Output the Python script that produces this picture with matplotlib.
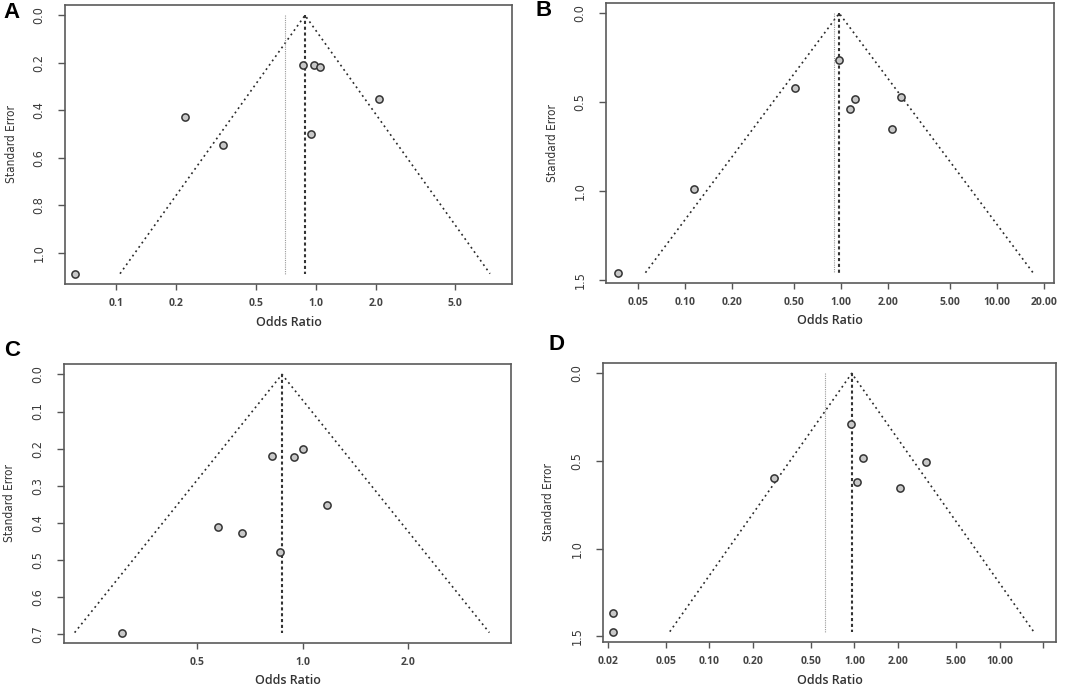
import numpy as np
import matplotlib
matplotlib.use("Agg")
import matplotlib.pyplot as plt
from matplotlib import font_manager
from matplotlib.font_manager import FontProperties
from matplotlib.ticker import NullLocator

# ---- data ----
# A
a_or = [0.0626, 0.2226, 0.3445, 0.866, 0.981, 1.052, 0.951, 2.083]
a_se = [1.088, 0.428, 0.545, 0.208, 0.210, 0.218, 0.500, 0.352]
a_est, a_adj = 0.883, 0.704
a_xticks = [0.1, 0.2, 0.5, 1.0, 2.0, 5.0]
a_xlabels = ["0.1", "0.2", "0.5", "1.0", "2.0", "5.0"]
a_yticks = [0.0, 0.2, 0.4, 0.6, 0.8, 1.0]
a_ylabels = ["0.0", "0.2", "0.4", "0.6", "0.8", "1.0"]

# B
b_or = [0.0371, 0.1135, 0.506, 0.975, 1.229, 1.146, 2.44, 2.11]
b_se = [1.459, 0.989, 0.422, 0.261, 0.481, 0.537, 0.472, 0.649]
b_est, b_adj = 0.975, 0.90
b_xticks = [0.05, 0.10, 0.20, 0.50, 1.00, 2.00, 5.00, 10.00, 20.00]
b_xlabels = ["0.05", "0.10", "0.20", "0.50", "1.00", "2.00", "5.00", "10.00", "20.00"]
b_yticks = [0.0, 0.5, 1.0, 1.5]
b_ylabels = ["0.0", "0.5", "1.0", "1.5"]

# C
c_or = [0.305, 0.575, 0.671, 0.859, 0.820, 0.946, 1.0, 1.174]
c_se = [0.695, 0.412, 0.426, 0.477, 0.220, 0.222, 0.200, 0.352]
c_est, c_adj = 0.873, None
c_xticks = [0.5, 1.0, 2.0]
c_xlabels = ["0.5", "1.0", "2.0"]
c_yticks = [0.0, 0.1, 0.2, 0.3, 0.4, 0.5, 0.6, 0.7]
c_ylabels = ["0.0", "0.1", "0.2", "0.3", "0.4", "0.5", "0.6", "0.7"]

# D
d_or = [0.0216, 0.0216, 0.277, 0.947, 1.151, 1.044, 3.12, 2.07]
d_se = [1.365, 1.473, 0.595, 0.291, 0.483, 0.618, 0.508, 0.656]
d_est, d_adj = 0.958, 0.627
d_xticks = [0.02, 0.05, 0.10, 0.20, 0.50, 1.00, 2.00, 5.00, 10.00, 20.00]
d_xlabels = ["0.02", "0.05", "0.10", "0.20", "0.50", "1.00", "2.00", "5.00", "10.00", ""]
d_yticks = [0.0, 0.5, 1.0, 1.5]
d_ylabels = ["0.0", "0.5", "1.0", "1.5"]

W, H = 1065, 690
fonts = font_manager.fontManager.ttflist
installed = {f.name for f in fonts}

# a condensed face for the y-axis text, if one is around
narrow_path = None
for f in fonts:
    nm = (f.name + " " + str(f.stretch)).lower()
    if ("narrow" in nm or "condensed" in nm) and f.weight in (400, "normal", "regular") \
            and f.style == "normal":
        narrow_path = f.fname
        break
if narrow_path:
    def narrow_fp(size):
        return FontProperties(fname=narrow_path, size=size)
else:
    def narrow_fp(size):
        return FontProperties(family="DejaVu Sans", size=size - 0.5)

wide = "Open Sans" if "Open Sans" in installed else "DejaVu Sans"
bold = "Liberation Sans" if "Liberation Sans" in installed else "DejaVu Sans"

fig = plt.figure(figsize=(W / 100, H / 100), dpi=100)
fig.patch.set_facecolor("white")


def px_axes(l, t, r, b):
    return fig.add_axes([l / W, 1 - b / H, (r - l) / W, (b - t) / H])


def funnel(ax, ors, ses, est, adj, xlim, ylim, xt, xl, yt, yl):
    ax.set_xscale("log")
    se_max = max(ses)
    z = 1.96
    lo = est * np.exp(-z * se_max)
    hi = est * np.exp(z * se_max)
    ax.plot([lo, est, hi], [se_max, 0, se_max], color="#2a2a2a", lw=1.2,
            linestyle=(0, (1.1, 2.1)))
    if adj is not None:
        ax.plot([adj, adj], [0, se_max], color="#9a9a9a", lw=0.8,
                linestyle=(0, (1, 1)))
    ax.plot([est, est], [0, se_max], color="#333333", lw=1.5,
            linestyle=(0, (1.5, 1.3)))
    ax.plot(ors, ses, "o", ms=5.2, mfc="#c8c8c8", mec="#333333", mew=1.1,
            zorder=5)
    ax.set_xlim(*xlim)
    ax.set_ylim(*ylim)
    ax.xaxis.set_minor_locator(NullLocator())
    ax.set_xticks(xt)
    ax.set_xticklabels(xl, fontfamily=wide, fontweight="bold",
                       fontsize=7.5, color="#444444")
    ax.set_yticks(yt)
    ax.set_yticklabels(yl, rotation=90, va="center", color="#3a3a3a")
    for t in ax.get_yticklabels():
        t.set_fontproperties(narrow_fp(9))
    ax.tick_params(axis="x", length=4, width=1, color="#555555", pad=6)
    ax.tick_params(axis="y", length=5, width=1, color="#555555", pad=9)
    for s in ax.spines.values():
        s.set_color("#5a5a5a")
        s.set_linewidth(1.2)


panels = [
    ("A", (65, 5, 512, 284), a_or, a_se, a_est, a_adj, (0.0555, 9.6),
     (1.1315, -0.0435), a_xticks, a_xlabels, a_yticks, a_ylabels,
     (12, 13), 12, 323),
    ("B", (606, 3, 1054, 283), b_or, b_se, b_est, b_adj, (0.0312, 23.2),
     (1.517, -0.058), b_xticks, b_xlabels, b_yticks, b_ylabels,
     (544, 11), 553, 321),
    ("C", (64, 364, 511, 643), c_or, c_se, c_est, c_adj, (0.2085, 3.93),
     (0.723, -0.028), c_xticks, c_xlabels, c_yticks, c_ylabels,
     (12, 351), 10, 681),
    ("D", (603, 363, 1056, 642), d_or, d_se, d_est, d_adj, (0.0185, 24.5),
     (1.532, -0.059), d_xticks, d_xlabels, d_yticks, d_ylabels,
     (556, 344), 549, 681),
]

for (lab, box, ors, ses, est, adj, xlim, ylim, xt, xl, yt, yl,
     labpos, ylab_x, xlab_y) in panels:
    ax = px_axes(*box)
    funnel(ax, ors, ses, est, adj, xlim, ylim, xt, xl, yt, yl)
    fig.text(labpos[0] / W, 1 - labpos[1] / H, lab, fontfamily=bold,
             fontweight="bold", fontsize=16, ha="center", va="center",
             color="black")
    mid_y = (box[1] + box[3]) / 2
    fig.text(ylab_x / W, 1 - mid_y / H, "Standard Error",
             fontproperties=narrow_fp(8.5), rotation=90, ha="center",
             va="center", color="#333333")
    mid_x = (box[0] + box[2]) / 2
    fig.text(mid_x / W, 1 - xlab_y / H, "Odds Ratio", fontfamily=wide,
             fontsize=9, fontweight="semibold", ha="center", va="center",
             color="#333333")

fig.savefig("out.png", dpi=100, facecolor="white")
